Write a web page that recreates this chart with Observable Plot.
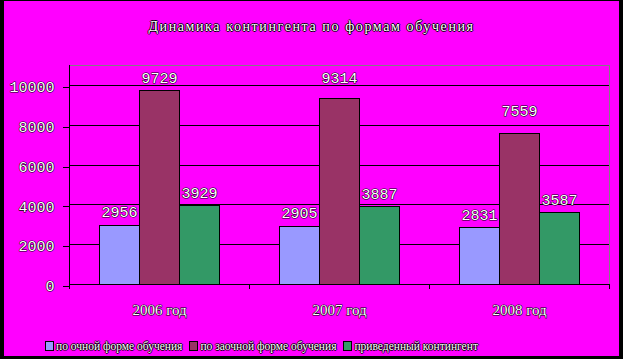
<!DOCTYPE html>
<html>
<head>
<meta charset="utf-8">
<script src="https://cdn.jsdelivr.net/npm/d3@7"></script>
<script src="https://cdn.jsdelivr.net/npm/@observablehq/plot@0.6"></script>
<style>
  html, body { margin: 0; padding: 0; background: #ff00ff; }
  #wrap { position: relative; width: 623px; height: 359px; background: #ff00ff; overflow: hidden; }
  .bd { position: absolute; background: #000; z-index: 5; }
  #title { position: absolute; left: 0; width: 623px; top: 19px; text-align: center;
    font-family: "Liberation Serif", serif; font-size: 14px; letter-spacing: 1.6px; color: #fff;
    text-shadow: 1px 0 0 #000, -1px 0 0 #000, 0 1px 0 #000, 0 -1px 0 #000; line-height: 16px; }
  #chart { position: absolute; left: 0; top: 0; }
  #chart svg text { fill: #fff; stroke: #000; stroke-width: 1.1px; paint-order: stroke; stroke-linejoin: round; }
  #chart svg line, #chart svg rect, #chart svg path { shape-rendering: crispEdges; }
  #legend { position: absolute; left: 45px; top: 339px; display: flex; align-items: center;
    font-family: "Liberation Serif", serif; font-size: 11.5px; letter-spacing: 0px; color: #fff;
    text-shadow: 1px 0 0 #000, -1px 0 0 #000, 0 1px 0 #000, 0 -1px 0 #000; line-height: 14px; white-space: nowrap; }
  .item { display: flex; align-items: center; margin-right: 7px; }
  .sw { width: 7px; height: 8px; border: 1px solid #000; margin-right: 2px; }
</style>
</head>
<body>
<div id="wrap">
  <div id="title"></div>
  <div id="chart"></div>
  <div id="legend"></div>
  <div class="bd" style="left:0;top:0;width:4px;height:359px"></div>
  <div class="bd" style="left:619px;top:0;width:4px;height:359px"></div>
  <div class="bd" style="left:0;top:0;width:623px;height:1px"></div>
  <div class="bd" style="left:0;top:356px;width:623px;height:3px"></div>
</div>
<script>
const titleText = "Динамика контингента по формам обучения";
const years = ["2006 год", "2007 год", "2008 год"];
const seriesNames = ["по очной форме обучения", "по заочной форме обучения", "приведенный контингент"];
const fullTime = [2956, 2905, 2831];
const partTime = [9729, 9314, 7559];
const reduced = [3929, 3887, 3587];
const yTicks = [0, 2000, 4000, 6000, 8000, 10000];
const yMax = 11000;
const colors = ["#9999ff", "#993366", "#339966"];

const seriesValues = [fullTime, partTime, reduced];
const table = years.flatMap((yr, i) =>
  seriesNames.map((s, j) => ({year: yr, series: s, value: seriesValues[j][i]})));

document.getElementById("title").textContent = titleText;

const W = 623, H = 325, mL = 68, mR = 13, mT = 65, mB = 41;
const half = (W - mL - mR) / years.length / 2;
const numFont = {fontFamily: "Liberation Mono", fontSize: 15};
const raised = d => d.series === seriesNames[1] && d.year !== years[0];

const chart = Plot.plot({
  width: W, height: H,
  marginTop: mT, marginLeft: mL, marginRight: mR, marginBottom: mB,
  style: {background: "transparent", color: "#000", overflow: "visible"},
  fx: {domain: years, padding: 0, axis: null, label: null},
  x: {domain: seriesNames, paddingInner: 0, paddingOuter: 0.74, axis: null},
  y: {domain: [0, yMax], axis: null},
  color: {domain: seriesNames, range: colors},
  marks: [
    Plot.ruleY(yTicks.slice(1), {stroke: "#000", strokeWidth: 1}),
    Plot.ruleY([yMax], {stroke: "#808080", strokeWidth: 1}),
    Plot.barY(table, {fx: "year", x: "series", y: "value", fill: "series", stroke: "#000", strokeWidth: 1}),
    Plot.ruleY([0], {stroke: "#000", strokeWidth: 1}),
    Plot.frame({anchor: "left", facetAnchor: "left", stroke: "#000", strokeWidth: 1}),
    Plot.frame({anchor: "right", facetAnchor: "right", stroke: "#808080", strokeWidth: 1}),
    Plot.axisY({ticks: yTicks, tickSize: 6, tickPadding: 9, tickFormat: d => String(d), label: null, ...numFont, dy: 2}),
    Plot.axisFx({anchor: "bottom", tickSize: 0, tickPadding: 20, label: null, fontFamily: "Liberation Serif", fontSize: 15}),
    Plot.axisFx({anchor: "bottom", tickSize: 5, tickFormat: () => "", label: null, dx: half}),
    Plot.axisFx({anchor: "bottom", ticks: [years[0]], tickSize: 5, tickFormat: () => "", label: null, dx: -half}),
    Plot.text(table, {filter: d => !raised(d), fx: "year", x: "series", y: "value", text: d => String(d.value), dy: -13, lineAnchor: "middle", ...numFont}),
    Plot.text(table, {filter: d => raised(d) && d.year === years[1], fx: "year", x: "series", y: "value", text: d => String(d.value), dy: -20.5, lineAnchor: "middle", ...numFont}),
    Plot.text(table, {filter: d => raised(d) && d.year === years[2], fx: "year", x: "series", y: "value", text: d => String(d.value), dy: -22.5, lineAnchor: "middle", ...numFont})
  ]
});
document.getElementById("chart").appendChild(chart);

const legend = document.getElementById("legend");
seriesNames.forEach((s, j) => {
  const item = document.createElement("div");
  item.className = "item";
  const sw = document.createElement("div");
  sw.className = "sw";
  sw.style.background = colors[j];
  const t = document.createElement("span");
  t.textContent = s;
  item.appendChild(sw);
  item.appendChild(t);
  legend.appendChild(item);
});
</script>
</body>
</html>
